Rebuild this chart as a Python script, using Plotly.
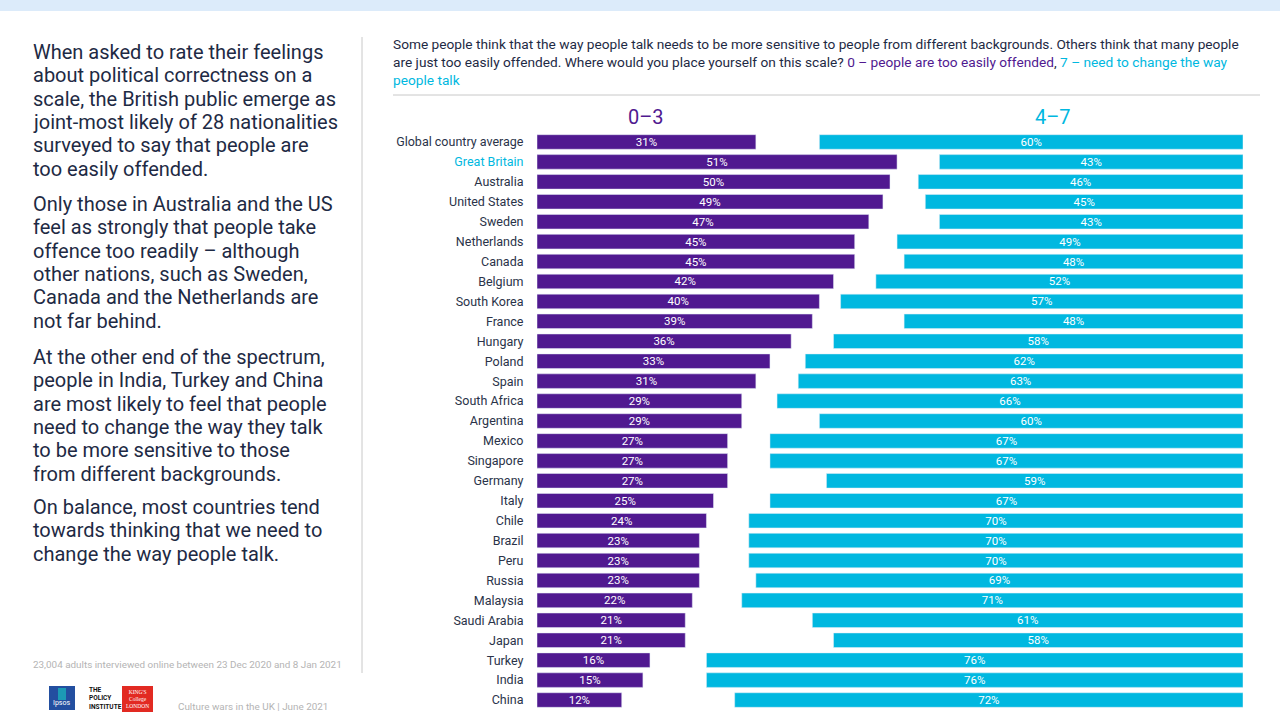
import plotly.graph_objects as go

countries = ["Global country average", "Great Britain", "Australia", "United States", "Sweden",
             "Netherlands", "Canada", "Belgium", "South Korea", "France", "Hungary", "Poland",
             "Spain", "South Africa", "Argentina", "Mexico", "Singapore", "Germany", "Italy",
             "Chile", "Brazil", "Peru", "Russia", "Malaysia", "Saudi Arabia", "Japan", "Turkey",
             "India", "China"]
low_0_3 = [31, 51, 50, 49, 47, 45, 45, 42, 40, 39, 36, 33, 31, 29, 29, 27, 27, 27, 25,
           24, 23, 23, 23, 22, 21, 21, 16, 15, 12]
high_4_7 = [60, 43, 46, 45, 43, 49, 48, 52, 57, 48, 58, 62, 63, 66, 60, 67, 67, 59, 67,
            70, 70, 70, 69, 71, 61, 58, 76, 76, 72]

PURPLE = "#501990"
CYAN = "#00B8E0"
NAVY = "#1E2A44"
LABEL = "#2A3349"
FONT = "Roboto, Liberation Sans, sans-serif"

W, H = 1280, 720
L, R, T, B = 537, 37, 132, 10
PW, PH = W - L - R, H - T - B


def px(x):
    return (x - L) / PW


def py(y):
    return (H - B - y) / PH


ticktext = [f"<span style='color:{CYAN}'>{c}</span>" if c == "Great Britain" else c for c in countries]

fig = go.Figure()
fig.add_trace(go.Bar(
    y=countries, x=low_0_3, orientation="h", marker_color=PURPLE, width=0.73,
    text=[f"{v}%" for v in low_0_3], textposition="inside", insidetextanchor="middle",
    textangle=0, textfont=dict(color="white", size=11.5, family=FONT), xaxis="x", hoverinfo="x+y"))
fig.add_trace(go.Bar(
    y=countries, x=high_4_7, orientation="h", marker_color=CYAN, width=0.73,
    text=[f"{v}%" for v in high_4_7], textposition="inside", insidetextanchor="middle",
    textangle=0, textfont=dict(color="white", size=11.5, family=FONT), xaxis="x2", hoverinfo="x+y"))

fig.update_layout(
    width=W, height=H, margin=dict(l=L, r=R, t=T, b=B),
    paper_bgcolor="white", plot_bgcolor="white", showlegend=False, barmode="overlay",
    font=dict(family=FONT, color=LABEL),
    uniformtext=dict(minsize=11.5, mode="show"),
    xaxis=dict(range=[0, 100], visible=False, fixedrange=True),
    xaxis2=dict(range=[100, 0], overlaying="x", visible=False, fixedrange=True),
    yaxis=dict(categoryorder="array", categoryarray=countries[::-1], autorange=False,
               range=[-0.5, len(countries) - 0.5], tickmode="array", tickvals=countries,
               ticktext=ticktext, ticks="outside", ticklen=10, tickcolor="rgba(0,0,0,0)",
               showgrid=False, showline=False, zeroline=False,
               tickfont=dict(size=12.5, family=FONT, color=LABEL)),
)

shapes = [
    dict(type="rect", xref="paper", yref="paper", x0=px(0), x1=px(1280), y0=py(11), y1=py(0),
         fillcolor="#DCEBFA", line=dict(width=0), layer="below"),
    dict(type="line", xref="paper", yref="paper", x0=px(362), x1=px(362), y0=py(37), y1=py(673),
         line=dict(color="#C8C8C8", width=1)),
    dict(type="line", xref="paper", yref="paper", x0=px(393), x1=px(1260), y0=py(95), y1=py(95),
         line=dict(color="#C8C8C8", width=1)),
    # Ipsos logo
    dict(type="rect", xref="paper", yref="paper", x0=px(49), x1=px(75), y0=py(710), y1=py(686),
         fillcolor="#234FA0", line=dict(width=0)),
    dict(type="rect", xref="paper", yref="paper", x0=px(58), x1=px(66), y0=py(700), y1=py(688),
         fillcolor="#1C9AB5", line=dict(width=0)),
    # King's logo
    dict(type="rect", xref="paper", yref="paper", x0=px(122), x1=px(153), y0=py(712), y1=py(686),
         fillcolor="#E22A22", line=dict(width=0)),
]
fig.update_layout(shapes=shapes)

ann = []


def add_text(x, y, text, size, color, anchor="left", family=FONT):
    ann.append(dict(x=px(x), y=py(y), xref="paper", yref="paper", text=text, showarrow=False,
                    xanchor=anchor, yanchor="middle", align=anchor,
                    font=dict(size=size, color=color, family=family)))


paragraphs = [
    ["When asked to rate their feelings", "about political correctness on a",
     "scale, the British public emerge as", "joint-most likely of 28 nationalities",
     "surveyed to say that people are", "too easily offended."],
    ["Only those in Australia and the US", "feel as strongly that people take",
     "offence too readily \u2013 although", "other nations, such as Sweden,",
     "Canada and the Netherlands are", "not far behind."],
    ["At the other end of the spectrum,", "people in India, Turkey and China",
     "are most likely to feel that people", "need to change the way they talk",
     "to be more sensitive to those", "from different backgrounds."],
    ["On balance, most countries tend", "towards thinking that we need to",
     "change the way people talk."],
]
starts = [52, 204, 357, 507]
for start, para in zip(starts, paragraphs):
    for i, line in enumerate(para):
        add_text(31, start + i * 23.3, line, 20, NAVY)

q_lines = [
    "Some people think that the way people talk needs to be more sensitive to people from different backgrounds. Others think that many people",
    f"are just too easily offended. Where would you place yourself on this scale? <span style='color:{PURPLE}'>0 \u2013 people are too easily offended</span>, <span style='color:{CYAN}'>7 \u2013 need to change the way</span>",
    f"<span style='color:{CYAN}'>people talk</span>",
]
for i, line in enumerate(q_lines):
    add_text(391, 44 + i * 18, line, 13.7, NAVY)

add_text(646, 117, "0\u20133", 20, PURPLE, anchor="center")
add_text(1053, 117, "4\u20137", 20, CYAN, anchor="center")

add_text(31, 664, "23,004 adults interviewed online between 23 Dec 2020 and 8 Jan 2021", 9.9, "#B4B4B4")
add_text(176, 706, "Culture wars in the UK | June 2021", 9.9, "#B4B4B4")

add_text(62, 703, "Ipsos", 7, "white", anchor="center")
ann.append(dict(x=px(87), y=py(698), xref="paper", yref="paper", showarrow=False,
                text="<b>THE<br>POLICY<br>INSTITUTE</b>", xanchor="left", yanchor="middle",
                align="left", font=dict(size=6.5, color="#111111", family=FONT)))
ann.append(dict(x=px(137.5), y=py(699), xref="paper", yref="paper", showarrow=False,
                text="KING'S<br>College<br>LONDON", xanchor="center", yanchor="middle",
                align="center", font=dict(size=5.5, color="white", family="Liberation Serif, serif")))

fig.update_layout(annotations=ann)
fig.write_html("out.html", config={"displayModeBar": False},
               post_script="document.body.style.margin='0';document.body.style.overflow='hidden';")
